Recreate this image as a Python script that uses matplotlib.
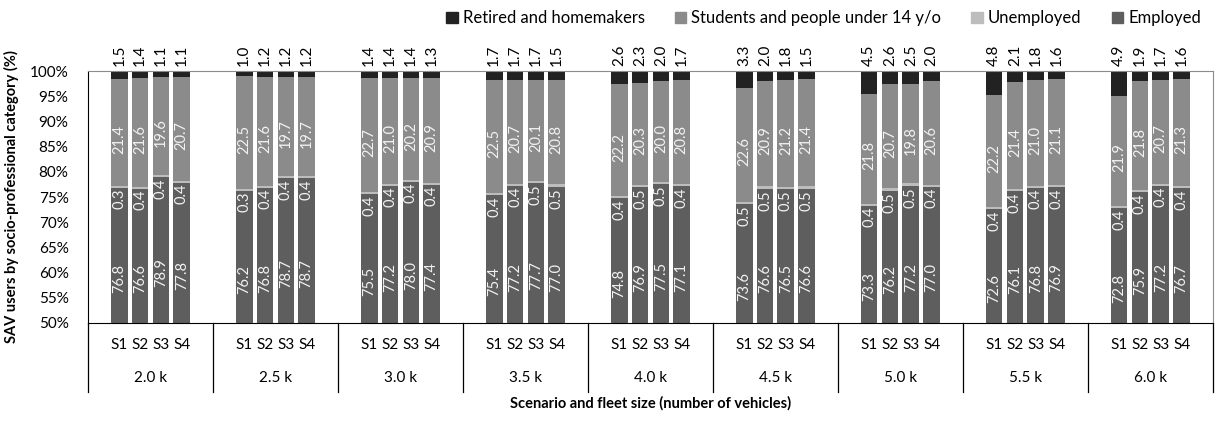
import numpy as np
import matplotlib
matplotlib.use("Agg")
import matplotlib.pyplot as plt
from matplotlib.patches import Patch
from matplotlib.lines import Line2D
import matplotlib.transforms as mtransforms

plt.rcParams["font.family"] = ["Lato", "DejaVu Sans"]

fleets = ["2.0 k", "2.5 k", "3.0 k", "3.5 k", "4.0 k", "4.5 k", "5.0 k", "5.5 k", "6.0 k"]
scenarios = ["S1", "S2", "S3", "S4"]

employed = [
    [76.8, 76.6, 78.9, 77.8],
    [76.2, 76.8, 78.7, 78.7],
    [75.5, 77.2, 78.0, 77.4],
    [75.4, 77.2, 77.7, 77.0],
    [74.8, 76.9, 77.5, 77.1],
    [73.6, 76.6, 76.5, 76.6],
    [73.3, 76.2, 77.2, 77.0],
    [72.6, 76.1, 76.8, 76.9],
    [72.8, 75.9, 77.2, 76.7],
]
unemployed = [
    [0.3, 0.4, 0.4, 0.4],
    [0.3, 0.4, 0.4, 0.4],
    [0.4, 0.4, 0.4, 0.4],
    [0.4, 0.4, 0.5, 0.5],
    [0.4, 0.5, 0.5, 0.4],
    [0.5, 0.5, 0.5, 0.5],
    [0.4, 0.5, 0.5, 0.4],
    [0.4, 0.4, 0.4, 0.4],
    [0.4, 0.4, 0.4, 0.4],
]
students = [
    [21.4, 21.6, 19.6, 20.7],
    [22.5, 21.6, 19.7, 19.7],
    [22.7, 21.0, 20.2, 20.9],
    [22.5, 20.7, 20.1, 20.8],
    [22.2, 20.3, 20.0, 20.8],
    [22.6, 20.9, 21.2, 21.4],
    [21.8, 20.7, 19.8, 20.6],
    [22.2, 21.4, 21.0, 21.1],
    [21.9, 21.8, 20.7, 21.3],
]
retired = [
    [1.5, 1.4, 1.1, 1.1],
    [1.0, 1.2, 1.2, 1.2],
    [1.4, 1.4, 1.4, 1.3],
    [1.7, 1.7, 1.7, 1.5],
    [2.6, 2.3, 2.0, 1.7],
    [3.3, 2.0, 1.8, 1.5],
    [4.5, 2.6, 2.5, 2.0],
    [4.8, 2.1, 1.8, 1.6],
    [4.9, 1.9, 1.7, 1.6],
]

c_emp = "#5e5e5e"
c_unemp = "#bdbdbd"
c_stu = "#8b8b8b"
c_ret = "#222222"

fig = plt.figure(figsize=(12.16, 4.4), dpi=100)
ax = fig.add_axes([0.0724, 0.266, 0.925, 0.5725])

emp = np.array(employed).ravel()
une = np.array(unemployed).ravel()
stu = np.array(students).ravel()
ret = np.array(retired).ravel()
x = np.array([g * 6 + i for g in range(len(fleets)) for i in range(len(scenarios))])

w = 0.8
ax.bar(x, emp, w, color=c_emp)
ax.bar(x, une, w, bottom=emp, color=c_unemp)
ax.bar(x, stu, w, bottom=emp + une, color=c_stu)
ax.bar(x, ret, w, bottom=emp + une + stu, color=c_ret)

lab_col = "#f2f2f2"
fs = 10.5
for xi, e, u, s, r in zip(x, emp, une, stu, ret):
    ax.text(xi, (e + 41) / 2, f"{e:.1f}", rotation=90, ha="center", va="center",
            color=lab_col, fontsize=fs)
    ax.text(xi, e - 0.2, f"{u:.1f}", rotation=90, ha="center", va="top",
            color=lab_col, fontsize=fs)
    ax.text(xi, e + u + s / 2 - 1.4, f"{s:.1f}", rotation=90, ha="center", va="center",
            color=lab_col, fontsize=fs)
    ax.text(xi, 101.0, f"{r:.1f}", rotation=90, ha="center", va="bottom",
            color="black", fontsize=11, clip_on=False)

ax.set_xlim(-1.5, len(fleets) * 6 - 1.5)
ax.set_ylim(50, 100)
ax.set_yticks(np.arange(50, 101, 5))
ax.set_yticklabels([f"{v}%" for v in range(50, 101, 5)], fontsize=11)
ax.tick_params(axis="y", length=0, pad=14)
ax.set_xticks([])

for side in ["top", "right"]:
    ax.spines[side].set_color("#8c8c8c")
    ax.spines[side].set_linewidth(0.8)
ax.spines["left"].set_color("black")
ax.spines["bottom"].set_color("black")

# two-level category axis
trans = mtransforms.blended_transform_factory(ax.transData, ax.transAxes)
for xi, sc in zip(x, scenarios * len(fleets)):
    ax.text(xi, -0.087, sc, transform=trans, ha="center", va="center", fontsize=11)
for g, name in enumerate(fleets):
    ax.text(g * 6 + 1.5, -0.218, name, transform=trans, ha="center", va="center", fontsize=11)
for g in range(len(fleets) + 1):
    ax.add_line(Line2D([g * 6 - 1.5, g * 6 - 1.5], [0, -0.274], transform=trans,
                       color="black", linewidth=0.9, clip_on=False))

ax.text(0.5, -0.318, "Scenario and fleet size (number of vehicles)", transform=ax.transAxes,
        ha="center", va="center", fontsize=10.5, fontweight="bold")
ax.set_ylabel("SAV users by socio-professional category (%)", fontsize=10.5,
              fontweight="bold", labelpad=8)

handles = [Patch(color=c_ret), Patch(color=c_stu), Patch(color=c_unemp), Patch(color=c_emp)]
labels = ["Retired and homemakers", "Students and people under 14 y/o", "Unemployed", "Employed"]
fig.legend(handles, labels, ncol=4, loc="center right", bbox_to_anchor=(1.0, 0.958),
           frameon=False, fontsize=12, handlelength=0.7, handleheight=0.7,
           handletextpad=0.3, columnspacing=1.8)

fig.savefig("out.png", dpi=100)
